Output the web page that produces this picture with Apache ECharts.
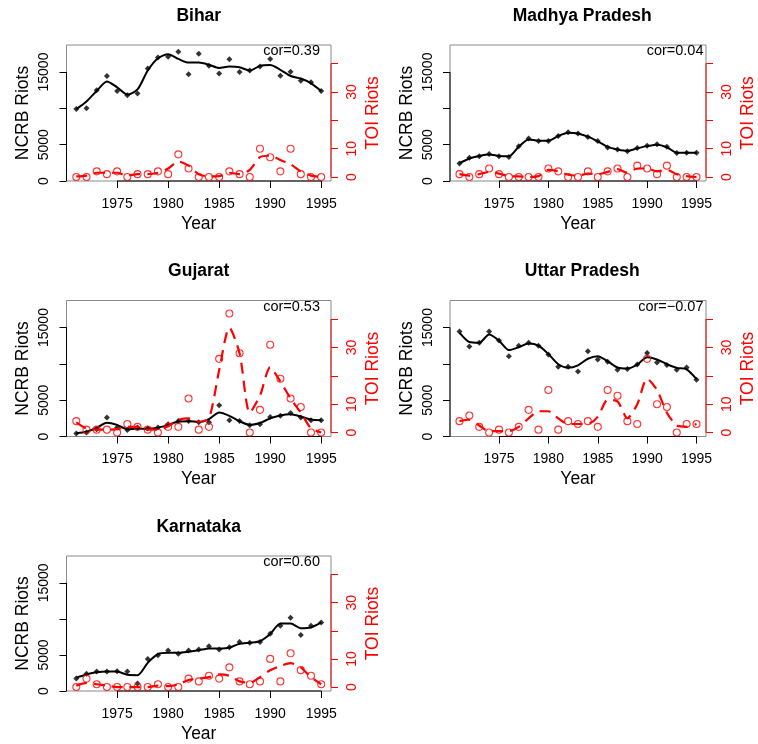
<!DOCTYPE html>
<html>
<head>
<meta charset="utf-8">
<script src="https://cdn.jsdelivr.net/npm/echarts@6/dist/echarts.min.js"></script>
<style>
html,body{margin:0;padding:0;background:#fff;}
#chart{width:758px;height:744px;}
</style>
</head>
<body>
<div id="chart"></div>
<script>
// ---------- data ----------
const years = [1971,1972,1973,1974,1975,1976,1977,1978,1979,1980,1981,1982,1983,1984,1985,1986,1987,1988,1989,1990,1991,1992,1993,1994,1995];

const states = ['Bihar','Madhya Pradesh','Gujarat','Uttar Pradesh','Karnataka'];
const corLabels = ['cor=0.39','cor=0.04','cor=0.53','cor=\u22120.07','cor=0.60'];

const biharNCRB = [9900,10000,12500,14450,12400,11800,12050,15500,17000,17100,17800,14700,17500,15850,14800,16750,15000,15200,15750,16800,14500,15050,13800,13600,12400];
const biharNCRBSmooth = [9900,10950,12400,13700,12900,11900,12600,15200,16900,17450,16800,16300,16300,16000,15550,15750,15650,15200,15850,15950,15300,14450,14100,13450,12400];
const biharTOI = [0,0,2,1,2,0,1,1,2,1,8,3,0,0,0,2,1,0,10,7,2,10,1,0,0];
const biharTOISmooth = [0.2,0.5,1.5,1.5,1.5,0.5,1,1,1.5,3,5.5,4,1,0.2,0.3,1.5,1,2.5,7,7.5,6,4.5,2,0.5,0];

const mpNCRB = [2400,3200,3400,3700,3400,3300,4800,5850,5500,5500,6200,6700,6550,6050,5500,4600,4350,4100,4550,4850,5050,4700,3850,3900,3900];
const mpNCRBSmooth = [2450,3100,3450,3650,3450,3400,4700,5700,5550,5550,6200,6650,6550,6100,5450,4700,4350,4150,4500,4800,5000,4650,3900,3900,3900];
const mpTOI = [1,0,1,3,1,0,0,0,0,3,2,0,0,2,0,2,3,0,4,3,1,4,0,0,0];
const mpTOISmooth = [1,0.5,1,1.8,1.2,0.3,0.2,0,0.3,2.5,2,0.8,0.5,1.2,1,1.8,2.8,1.5,3,3,2,2.5,1,0.3,0];

const gujNCRB = [400,550,1000,2600,1250,900,1250,1100,1250,1700,2150,2150,1950,1950,4300,2250,2150,1550,1700,2700,2850,3250,2600,2250,2250];
const gujNCRBSmooth = [450,650,1200,1900,1600,1000,1050,1050,1200,1600,2050,2100,2000,2400,3300,2850,2100,1600,1850,2500,2900,3050,2750,2350,2250];
const gujTOI = [4,1,1,1,0,3,2,1,0,2,2,12,1,2,26,42,28,0,8,31,19,12,9,0,0];
const gujTOISmooth = [3.6,1.4,1,1,1.2,2,2,1,1,2.2,4.5,5,3.8,5,22,37,28,7,13,23,18,12,7,1.5,0];

const upNCRB = [14450,12400,12900,14450,13200,11050,12500,12900,12500,11300,9600,9600,8950,11750,10600,10300,9200,9300,9900,11500,10200,9850,9200,9500,7800];
const upNCRBSmooth = [14300,13000,12900,14050,13200,11900,12300,12800,12500,11350,9950,9450,9800,10700,11050,10350,9500,9350,9900,10900,10600,9950,9450,9250,7900];
const upTOI = [4,6,2,0,1,0,2,8,1,15,1,4,3,4,2,15,13,4,3,26,10,9,0,3,3];
const upTOISmooth = [4,4.5,2.5,0.5,0.5,0.5,2,5,7.5,7.5,5,3,3,3,5.5,11.5,11,5,10,19,15,7,2.5,2,3];

const karNCRB = [1750,2400,2700,2700,2750,2700,1050,4450,4950,5600,5150,5600,5750,6200,5750,6050,6800,6700,6800,7950,9050,10150,7750,9050,9500];
const karNCRBSmooth = [1850,2300,2600,2700,2700,2250,2200,3900,5100,5300,5300,5450,5650,5900,5900,6000,6550,6700,6900,7900,9350,9350,8700,8800,9500];
const karTOI = [0,3,1,0,0,0,0,0,1,0,0,3,2,4,3,7,2,1,2,10,2,12,6,4,1];
const karTOISmooth = [0.5,1.5,1,0.5,0,0,0,0,0.5,0.3,1,2.5,3,3.5,4.5,4,2,1.5,3.5,6,7.5,8.5,7,3.5,1];

const yearTicks = [1975,1980,1985,1990,1995];
const ncrbTicks = [0,5000,10000,15000];
const ncrbLabels = [0,5000,15000];
const toiTicks = [0,10,20,30,40];
const toiLabels = [0,10,30];

// ---------- layout ----------
const FONT = 'Liberation Sans, Arial, Helvetica, sans-serif';
const BOX_L = 66.5, BOX_T = 45, BOX_W = 264.5, BOX_H = 136;
const COL_DX = [0, 383.5];
const ROW_DY = [0, 255.5, 511];
const X_MIN = 1970.04, X_MAX = 1995.96;
const NCRB_MIN = 0, NCRB_MAX = 18720;
const TOI_MIN = -1.41, TOI_MAX = 46.6;
const plain = v => String(v);

const panels = [
  {ncrb: biharNCRB, ncrbS: biharNCRBSmooth, toi: biharTOI, toiS: biharTOISmooth, col:0, row:0},
  {ncrb: mpNCRB, ncrbS: mpNCRBSmooth, toi: mpTOI, toiS: mpTOISmooth, col:1, row:0},
  {ncrb: gujNCRB, ncrbS: gujNCRBSmooth, toi: gujTOI, toiS: gujTOISmooth, col:0, row:1},
  {ncrb: upNCRB, ncrbS: upNCRBSmooth, toi: upTOI, toiS: upTOISmooth, col:1, row:1},
  {ncrb: karNCRB, ncrbS: karNCRBSmooth, toi: karTOI, toiS: karTOISmooth, col:0, row:2}
];

const zip = (xs, ys) => xs.map((x, i) => [x, ys[i]]);

const grid = [], xAxis = [], yAxis = [], series = [], graphic = [];

panels.forEach((p, i) => {
  const ox = COL_DX[p.col], oy = ROW_DY[p.row];
  grid.push({
    left: ox + BOX_L, top: oy + BOX_T, width: BOX_W, height: BOX_H,
    show: true, borderColor: '#8a8a8a', borderWidth: 1, backgroundColor: 'transparent'
  });
  xAxis.push({
    gridIndex: i, type: 'value', min: X_MIN, max: X_MAX,
    axisLine: {show: false}, splitLine: {show: false},
    axisTick: {show: true, customValues: yearTicks, length: 7, lineStyle: {color: '#000', width: 1}},
    axisLabel: {customValues: yearTicks, formatter: plain, fontSize: 14, color: '#000', margin: 16, fontFamily: FONT},
    name: 'Year', nameLocation: 'middle', nameGap: 34,
    nameTextStyle: {fontSize: 17.5, color: '#000', fontFamily: FONT}
  });
  yAxis.push({
    gridIndex: i, type: 'value', position: 'left', min: NCRB_MIN, max: NCRB_MAX,
    axisLine: {show: false}, splitLine: {show: false},
    axisTick: {show: true, customValues: ncrbTicks, length: 7, lineStyle: {color: '#000', width: 1}},
    axisLabel: {customValues: ncrbLabels, formatter: plain, rotate: 90, fontSize: 14, color: '#000', margin: 15, fontFamily: FONT},
    name: 'NCRB Riots', nameLocation: 'middle', nameRotate: 90, nameGap: 34,
    nameTextStyle: {fontSize: 17.5, color: '#000', fontFamily: FONT}
  });
  yAxis.push({
    gridIndex: i, type: 'value', position: 'right', min: TOI_MIN, max: TOI_MAX,
    axisLine: {show: false}, splitLine: {show: false},
    axisTick: {show: true, customValues: toiTicks, length: 7, lineStyle: {color: '#ff0000', width: 1}},
    axisLabel: {customValues: toiLabels, formatter: plain, rotate: 90, fontSize: 14, color: '#ff0000', margin: 14, fontFamily: FONT},
    name: 'TOI Riots', nameLocation: 'middle', nameRotate: 90, nameGap: 33,
    nameTextStyle: {fontSize: 17.5, color: '#ff0000', fontFamily: FONT}
  });
  const yl = 2 * i, yr = 2 * i + 1;
  // axis lines spanning tick range (R style)
  series.push({
    type: 'line', xAxisIndex: i, yAxisIndex: yl, silent: true, clip: false, symbol: 'none',
    data: [[X_MIN, ncrbTicks[0]], [X_MIN, ncrbTicks[ncrbTicks.length - 1]]],
    lineStyle: {color: '#000', width: 1}, z: 1
  });
  series.push({
    type: 'line', xAxisIndex: i, yAxisIndex: yl, silent: true, clip: false, symbol: 'none',
    data: [[yearTicks[0], NCRB_MIN], [yearTicks[yearTicks.length - 1], NCRB_MIN]],
    lineStyle: {color: '#000', width: 1}, z: 1
  });
  series.push({
    type: 'line', xAxisIndex: i, yAxisIndex: yr, silent: true, clip: false, symbol: 'none',
    data: [[X_MAX, toiTicks[0]], [X_MAX, toiTicks[toiTicks.length - 1]]],
    lineStyle: {color: '#ff0000', width: 1}, z: 1
  });
  // NCRB
  series.push({
    type: 'line', xAxisIndex: i, yAxisIndex: yl, data: zip(years, p.ncrbS),
    smooth: 0.25, symbol: 'none', lineStyle: {color: '#000', width: 2}, z: 2, silent: true
  });
  series.push({
    type: 'scatter', xAxisIndex: i, yAxisIndex: yl, data: zip(years, p.ncrb),
    symbol: 'diamond', symbolSize: 6, itemStyle: {color: '#000'}, z: 3, silent: true
  });
  // TOI
  series.push({
    type: 'line', xAxisIndex: i, yAxisIndex: yr, data: zip(years, p.toiS),
    smooth: 0.25, symbol: 'none', lineStyle: {color: '#ff0000', width: 2.2, type: [11, 7]}, z: 4, silent: true
  });
  series.push({
    type: 'scatter', xAxisIndex: i, yAxisIndex: yr, data: zip(years, p.toi),
    symbol: 'circle', symbolSize: 7,
    itemStyle: {color: 'rgba(0,0,0,0)', borderColor: '#ff0000', borderWidth: 1.1}, z: 5, silent: true
  });
  // title and correlation text
  graphic.push({
    type: 'text', x: ox + BOX_L + BOX_W / 2, y: oy + 16,
    style: {text: states[i], font: 'bold 17.5px ' + FONT, fill: '#000', align: 'center', verticalAlign: 'middle'}
  });
  graphic.push({
    type: 'text', x: ox + 320, y: oy + 51,
    style: {text: corLabels[i], font: '14.5px ' + FONT, fill: '#000', align: 'right', verticalAlign: 'middle'}
  });
});

const chart = echarts.init(document.getElementById('chart'), null, {renderer: 'canvas'});
chart.setOption({
  animation: false,
  backgroundColor: '#fff',
  grid, xAxis, yAxis, series, graphic
});
</script>
</body>
</html>
